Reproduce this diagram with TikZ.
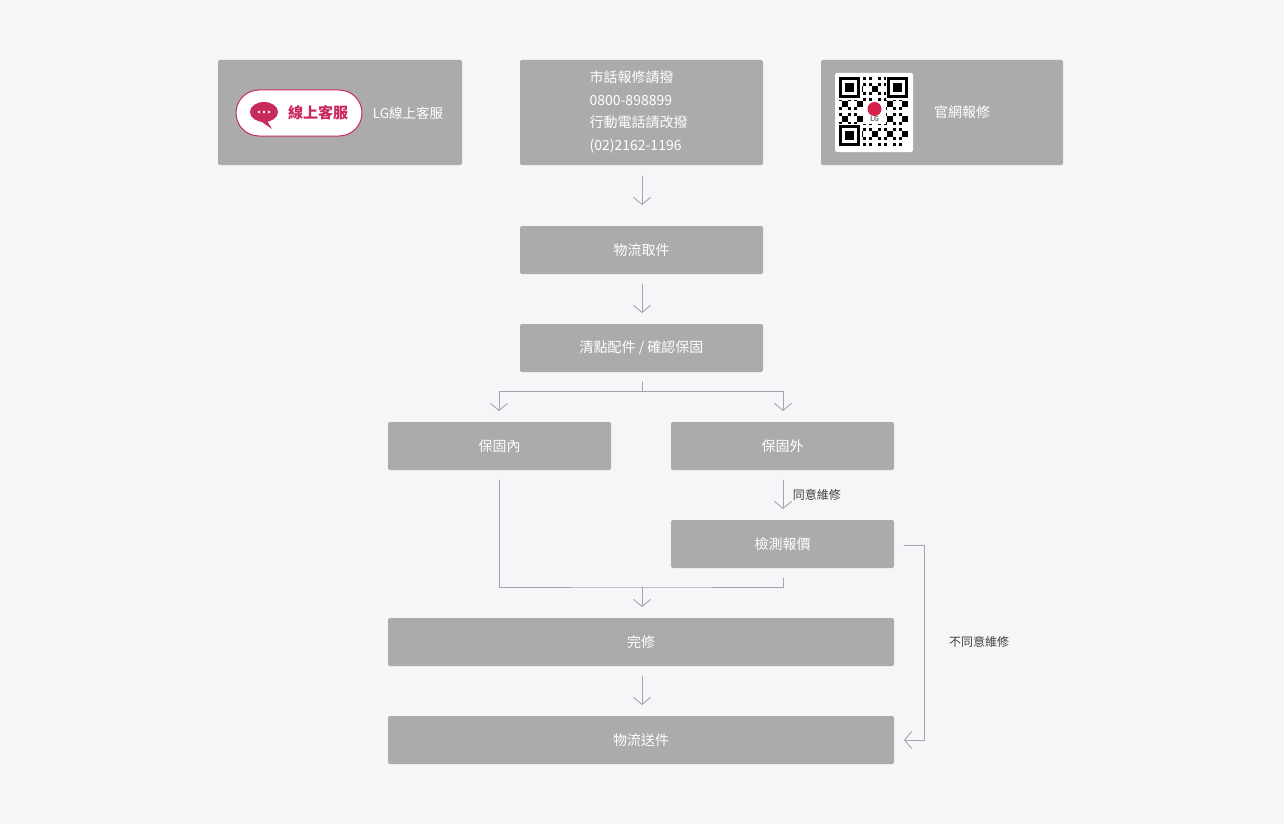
\documentclass[tikz,border=0pt]{standalone}
\usepackage{fontspec}
\setmainfont{Noto Sans CJK TC}
\usetikzlibrary{arrows.meta}
\definecolor{pagebg}{HTML}{F5F6F8}
\definecolor{boxgray}{HTML}{ABABAD}
\definecolor{linegray}{HTML}{A4A4AC}
\definecolor{lgpink}{HTML}{C92A5C}
\tikzset{
  stepbox/.style={fill=boxgray,rounded corners=2pt,text=white,font=\fontsize{14}{16}\selectfont},
  flow/.style={draw=linegray,line width=0.9pt,-{Straight Barb[length=7pt,width=17pt]}},
  plain/.style={draw=linegray,line width=0.9pt},
  note/.style={text=black!75,font=\fontsize{12}{14}\selectfont}
}
\begin{document}
\begin{tikzpicture}[x=1pt,y=-1pt,line cap=round,line join=round]
\fill[pagebg] (0,0) rectangle (1284,824);
\useasboundingbox (0,0) rectangle (1284,824);
% top row
\fill[stepbox] (218,60) rectangle (462,165);
\fill[stepbox] (520,60) rectangle (763,165);
\fill[stepbox] (821,60) rectangle (1063,165);
\node (start) at (641.5,165) {};
% chat button
\draw[lgpink,fill=white,line width=1pt,rounded corners=23pt] (236,90) rectangle (362,136);
\fill[lgpink] (264,112) ellipse (14pt and 10pt);
\fill[lgpink] (266,119) -- (272,129) -- (259,120) -- cycle;
\foreach \dx in {-5,0,5} \fill[white] (264+\dx,112) circle (1.3pt);
\node[text=lgpink,font=\bfseries\fontsize{15}{17}\selectfont] (chat) at (318,113) {線上客服};
\node[text=white,font=\fontsize{13.5}{16}\selectfont] (chatlbl) at (408,113) {LG線上客服};
% phone
\node[text=white,font=\fontsize{14}{22.5}\selectfont,align=left,anchor=west] (phone) at (586,112)
  {市話報修請撥\\0800-898899\\行動電話請改撥\\(02)2162-1196};
% qr code
\fill[white,rounded corners=2pt] (835,73) rectangle (913,152);
\begin{scope}[shift={(839,77)}]
  \foreach \i in {0,...,22}
    \foreach \j in {0,...,22} {
      \pgfmathsetmacro{\v}{mod(\i*7+\j*13+\i*\j*3,5)}
      \ifdim\v pt<2pt \fill[black] (\i*3,\j*3) rectangle ++(3,3);\fi
    }
  \foreach \px/\py in {0/0,48/0,0/48} {
    \fill[white] (\px-1,\py-1) rectangle ++(24,24);
    \fill[black] (\px,\py) rectangle ++(21,21);
    \fill[white] (\px+3,\py+3) rectangle ++(15,15);
    \fill[black] (\px+6,\py+6) rectangle ++(9,9);
  }
  \fill[white] (24,24) rectangle ++(23,23);
  \fill[lgpink!80!red] (35.5,32) circle (7pt);
  \node[font=\bfseries\fontsize{7}{8}\selectfont,text=gray] at (35.5,42) {LG};
\end{scope}
\node[text=white,font=\fontsize{14}{16}\selectfont] (web) at (962,112) {官網報修};
% flow
\fill[stepbox] (520,226) rectangle (763,274) node[midway] (pickup) {物流取件};
\fill[stepbox] (520,324) rectangle (763,372) node[midway] (check) {清點配件 / 確認保固};
\fill[stepbox] (388,422) rectangle (611,470) node[midway] (inside) {保固內};
\fill[stepbox] (671,422) rectangle (894,470) node[midway] (outside) {保固外};
\fill[stepbox] (671,520) rectangle (894,568) node[midway] (quote) {檢測報價};
\fill[stepbox] (388,618) rectangle (894,666) node[midway] (done) {完修};
\fill[stepbox] (388,716) rectangle (894,764) node[midway] (ship) {物流送件};
\coordinate (split) at (642,391);
\coordinate (join) at (642,587);
\draw[flow] (642,176) -- (642,205);
\draw[flow] (642,284) -- (642,313);
\draw[plain] (642,382) -- (split);
\draw[flow] (split) -| (499,411);
\draw[flow] (split) -| (783,411);
\draw[flow] (783,480) -- (783,509) node[midway,right=6pt,note] (agree) {同意維修};
\draw[plain] (499,480) |- (join) -| (783,578);
\draw[flow] (join) -- (642,607);
\draw[flow] (642,676) -- (642,705);
\draw[flow] (904,545) -- (924,545) -- (924,740) -- (904,740);
\node[note] (refuse) at (979,642) {不同意維修};
\end{tikzpicture}
\end{document}
